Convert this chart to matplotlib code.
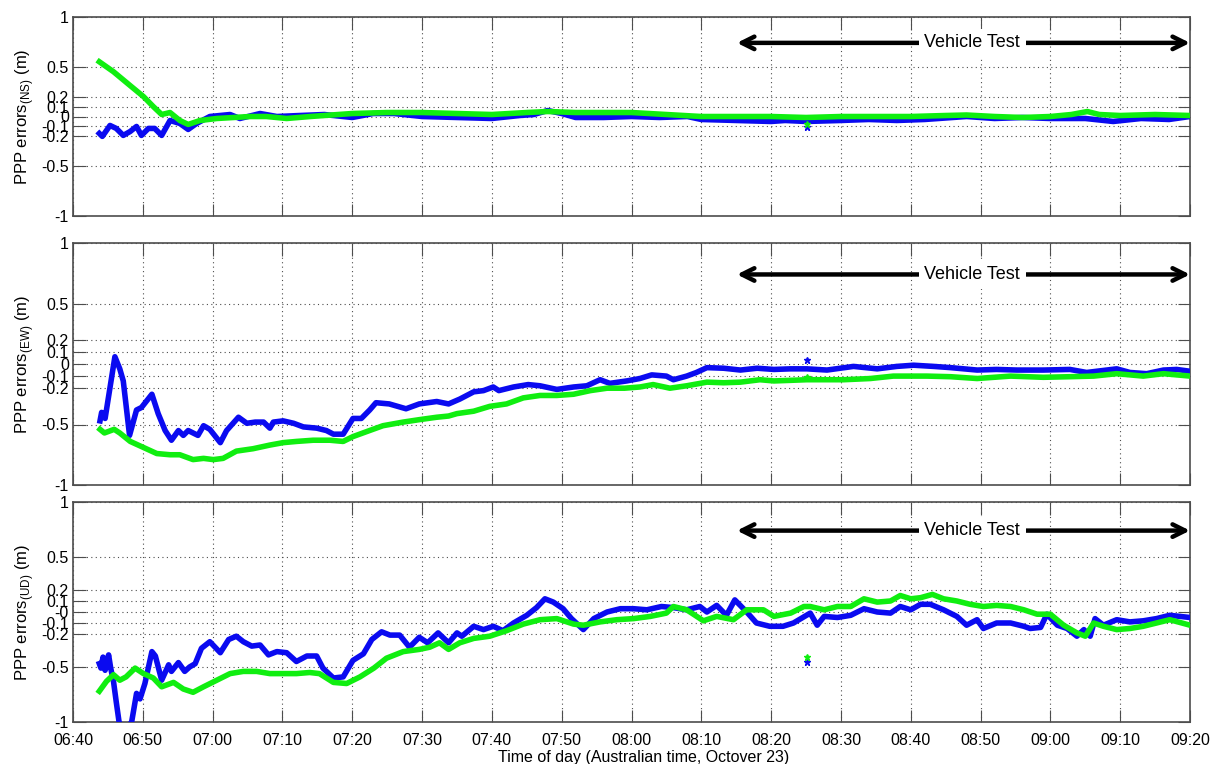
import matplotlib
matplotlib.use("Agg")
import matplotlib.pyplot as plt

plt.rcParams['font.family'] = ['Liberation Sans', 'DejaVu Sans']

# time in minutes after 06:40
tick_minutes = list(range(0, 161, 10))
tick_labels = ["06:40", "06:50", "07:00", "07:10", "07:20", "07:30", "07:40", "07:50", "08:00",
               "08:10", "08:20", "08:30", "08:40", "08:50", "09:00", "09:10", "09:20"]
y_ticks = [-1, -0.5, -0.2, -0.1, 0, 0.1, 0.2, 0.5, 1]

# NS errors
ns_blue_t = [3.77, 4.2, 5.3, 6.2, 7.2, 8.2, 9.1, 9.8, 10.8, 11.7, 12.7, 13.9, 15.3, 16.5, 17.7, 19.6,
             22.5, 23.9, 26.8, 29.2, 32.5, 36, 40, 43, 46, 50, 55, 60, 64, 66, 68, 70, 72, 76, 80,
             84, 88, 90, 95, 100, 102, 105, 110, 114, 118, 122, 128, 132, 136, 140, 145, 149, 153,
             157, 160]
ns_blue_v = [-0.17, -0.20, -0.09, -0.12, -0.19, -0.15, -0.10, -0.19, -0.12, -0.12, -0.19, -0.04,
             -0.07, -0.13, -0.07, 0.0, 0.02, -0.02, 0.03, 0.0, 0.01, 0.02, -0.01, 0.03, 0.03, 0.0,
             -0.01, -0.02, 0.01, 0.02, 0.06, 0.03, -0.01, -0.01, 0.0, -0.01, 0.0, -0.03, -0.04,
             -0.05, -0.04, -0.05, -0.04, -0.03, -0.04, -0.03, 0.0, -0.02, -0.01, -0.02, -0.02,
             -0.05, -0.02, -0.03, 0.0]
ns_green_t = [3.77, 5.8, 8.2, 10.1, 11.5, 12.7, 13.9, 15.3, 16.5, 18.2, 20.6, 23.0, 25.4, 27.7,
              30.6, 34, 40, 45, 50, 55, 60, 65, 68, 72, 76, 80, 85, 90, 95, 100, 105, 110, 115,
              120, 125, 128, 132, 136, 140, 143, 145.3, 147, 150, 155, 160]
ns_green_v = [0.55, 0.45, 0.31, 0.20, 0.10, 0.02, 0.04, -0.04, -0.08, -0.04, -0.02, -0.01, 0.0,
              0.0, -0.02, 0.0, 0.03, 0.04, 0.04, 0.03, 0.02, 0.04, 0.05, 0.04, 0.04, 0.04, 0.02,
              0.0, 0.0, 0.0, -0.01, 0.0, 0.0, 0.0, 0.01, 0.015, 0.0, -0.01, 0.0, 0.02, 0.05, 0.02,
              0.01, 0.02, 0.01]

# EW errors
ew_blue_t = [3.87, 4.1, 4.6, 6.0, 6.7, 7.2, 8.1, 9.1, 9.8, 11.3, 12.2, 13.2, 14.1, 15.1, 15.8,
             16.5, 17.9, 18.7, 19.6, 21.1, 22.0, 23.7, 24.9, 26.1, 27.3, 28.2, 28.7, 30.1, 31.6,
             33.0, 34.9, 36.3, 37.3, 38.7, 40.1, 41.3, 42.5, 43.4, 45.3, 47.7, 49.6, 52.1, 53.8,
             55.4, 57.4, 58.8, 60.2, 61.0, 63.1, 65.2, 66.9, 69.3, 71.7, 73.6, 75.5, 76.9, 79.3,
             81.2, 82.9, 85.0, 86.0, 87.9, 89.3, 90.8, 93.2, 95.6, 98.0, 100.4, 102.8, 105.1,
             108.0, 111.8, 115.2, 118.0, 120.4, 123.3, 125.7, 129.5, 132.3, 135.2, 139.0, 142.8,
             145.2, 149.5, 151.4, 153.8, 156.2, 158.1, 160]
ew_blue_v = [-0.47, -0.40, -0.45, 0.06, -0.04, -0.14, -0.59, -0.38, -0.36, -0.25, -0.41, -0.55,
             -0.63, -0.55, -0.59, -0.55, -0.59, -0.51, -0.54, -0.65, -0.55, -0.44, -0.49, -0.48,
             -0.48, -0.53, -0.48, -0.47, -0.49, -0.52, -0.53, -0.55, -0.58, -0.58, -0.45, -0.45,
             -0.38, -0.32, -0.33, -0.37, -0.33, -0.31, -0.33, -0.29, -0.23, -0.22, -0.19, -0.22,
             -0.19, -0.17, -0.18, -0.21, -0.19, -0.18, -0.13, -0.16, -0.14, -0.12, -0.09, -0.10,
             -0.13, -0.10, -0.07, -0.03, -0.035, -0.05, -0.035, -0.045, -0.04, -0.04, -0.05, -0.02,
             -0.04, -0.02, -0.01, -0.02, -0.03, -0.05, -0.045, -0.05, -0.05, -0.045, -0.07, -0.04,
             -0.07, -0.08, -0.05, -0.045, -0.06]
ew_green_t = [3.87, 4.5, 5.9, 6.7, 8.2, 10.1, 12.0, 13.9, 15.3, 17.2, 18.7, 20.1, 21.5, 23.4,
              25.8, 28.2, 30.1, 32.0, 34.4, 36.8, 38.7, 40.1, 42.0, 44.4, 47.3, 49.6, 52.1, 53.8,
              55.0, 57.4, 59.7, 62.1, 64.5, 66.9, 69.3, 71.7, 74.1, 76.5, 79.0, 81.2, 83.1, 85.5,
              87.9, 90.8, 93.2, 95.6, 98.4, 100.4, 102.8, 105.1, 110.4, 114.2, 117.5, 122.3, 125.7,
              129.5, 134.3, 139.0, 142.8, 146.2, 149.5, 153.3, 156.2, 160]
ew_green_v = [-0.54, -0.57, -0.54, -0.57, -0.64, -0.69, -0.74, -0.75, -0.75, -0.79, -0.78, -0.79,
              -0.78, -0.72, -0.70, -0.67, -0.65, -0.64, -0.63, -0.63, -0.64, -0.60, -0.56, -0.51,
              -0.48, -0.46, -0.44, -0.43, -0.41, -0.39, -0.35, -0.33, -0.28, -0.26, -0.26, -0.25,
              -0.22, -0.20, -0.20, -0.19, -0.17, -0.20, -0.18, -0.15, -0.155, -0.15, -0.13, -0.14,
              -0.135, -0.13, -0.13, -0.12, -0.10, -0.10, -0.105, -0.12, -0.10, -0.11, -0.105,
              -0.10, -0.08, -0.10, -0.08, -0.10]

# UD errors
ud_blue_t = [3.77, 4.0, 4.3, 4.6, 5.1, 5.4, 5.8, 6.2, 6.6, 7.3, 8.4, 9.1, 9.6, 10.3, 11.3, 11.8,
             12.7, 13.7, 14.1, 15.1, 16.0, 16.7, 17.5, 18.4, 19.6, 21.1, 22.3, 23.4, 24.4, 25.6,
             26.8, 28.0, 29.2, 30.6, 32.0, 33.5, 34.9, 35.8, 37.3, 38.7, 40.1, 41.6, 42.8, 44.2,
             45.4, 46.8, 48.2, 49.6, 50.8, 52.3, 53.8, 55.0, 55.7, 57.4, 58.8, 60.2, 61.6, 63.1,
             65.0, 66.4, 67.6, 68.8, 70.2, 71.4, 73.1, 74.6, 76.5, 78.4, 80.3, 82.2, 84.3, 86.0,
             87.9, 89.8, 90.8, 92.2, 93.6, 94.8, 96.5, 97.9, 99.8, 101.7, 103.2, 105.6, 106.6,
             107.6, 109.5, 111.4, 113.3, 115.2, 117.1, 118.5, 120.0, 121.4, 122.8, 124.7, 126.6,
             128.0, 129.5, 130.4, 132.3, 134.3, 136.2, 137.1, 138.6, 139.5, 141.0, 142.4, 143.8,
             144.8, 145.7, 146.4, 147.6, 149.5, 151.4, 153.3, 155.2, 157.1, 160]
ud_blue_v = [-0.47, -0.51, -0.41, -0.53, -0.39, -0.51, -0.63, -0.82, -1.0, -1.08, -1.0, -0.74,
             -0.79, -0.65, -0.36, -0.40, -0.62, -0.48, -0.54, -0.46, -0.54, -0.50, -0.47, -0.33,
             -0.27, -0.37, -0.25, -0.22, -0.27, -0.31, -0.30, -0.39, -0.36, -0.37, -0.45, -0.40,
             -0.40, -0.51, -0.60, -0.59, -0.44, -0.38, -0.25, -0.18, -0.21, -0.21, -0.32, -0.23,
             -0.28, -0.19, -0.28, -0.19, -0.22, -0.13, -0.16, -0.13, -0.17, -0.10, -0.03, 0.04,
             0.12, 0.09, 0.03, -0.06, -0.16, -0.06, 0.0, 0.03, 0.03, 0.02, 0.05, 0.04, 0.02, 0.05,
             0.0, 0.06, -0.03, 0.11, 0.0, -0.10, -0.13, -0.13, -0.10, -0.01, -0.12, -0.04, -0.05,
             -0.03, 0.03, 0.0, -0.01, 0.05, 0.02, 0.07, 0.07, 0.02, -0.04, -0.12, -0.07, -0.15,
             -0.10, -0.10, -0.13, -0.15, -0.14, -0.02, -0.12, -0.15, -0.22, -0.16, -0.22, -0.06,
             -0.12, -0.07, -0.09, -0.08, -0.06, -0.03, -0.05]
ud_green_t = [3.77, 4.8, 5.8, 6.7, 7.6, 8.9, 10.1, 11.5, 12.7, 14.4, 15.8, 17.2, 18.7, 20.6, 22.5,
              24.4, 26.3, 28.2, 30.1, 32.0, 33.9, 35.3, 37.3, 39.2, 41.1, 43.1, 44.9, 47.3, 49.6,
              51.1, 52.5, 53.8, 55.4, 57.4, 59.7, 62.1, 64.5, 66.9, 69.3, 71.7, 73.1, 75.5, 77.9,
              80.3, 82.7, 85.0, 86.0, 87.9, 90.3, 92.2, 94.6, 96.5, 98.9, 100.4, 102.8, 104.7,
              105.6, 107.6, 109.5, 111.4, 113.3, 115.2, 117.1, 118.5, 120.0, 121.4, 123.1, 124.7,
              126.6, 128.5, 130.4, 132.3, 134.3, 136.2, 138.1, 140.0, 141.9, 143.8, 145.0, 146.2,
              147.6, 149.5, 151.4, 153.3, 155.2, 157.1, 160]
ud_green_v = [-0.72, -0.63, -0.57, -0.62, -0.59, -0.51, -0.56, -0.60, -0.68, -0.64, -0.70, -0.73,
              -0.68, -0.62, -0.56, -0.54, -0.54, -0.56, -0.56, -0.56, -0.55, -0.56, -0.64, -0.65,
              -0.59, -0.51, -0.42, -0.36, -0.34, -0.32, -0.28, -0.34, -0.28, -0.24, -0.22, -0.17,
              -0.11, -0.07, -0.06, -0.11, -0.12, -0.09, -0.07, -0.06, -0.04, -0.01, 0.05, 0.02,
              -0.08, -0.04, -0.07, 0.02, 0.02, -0.04, -0.01, 0.05, 0.05, 0.02, 0.05, 0.05, 0.12,
              0.09, 0.10, 0.15, 0.12, 0.13, 0.16, 0.12, 0.10, 0.07, 0.05, 0.06, 0.05, 0.02, -0.02,
              -0.02, -0.12, -0.19, -0.22, -0.10, -0.13, -0.16, -0.15, -0.13, -0.10, -0.07, -0.12]

# isolated epoch near 08:25
spike_t = [105.1]
ns_spike_blue, ns_spike_green = [-0.11], [-0.08]
ew_spike_blue, ew_spike_green = [0.03], [-0.11]
ud_spike_blue, ud_spike_green = [-0.45], [-0.41]

panels = [
    ("NS", ns_blue_t, ns_blue_v, ns_green_t, ns_green_v, ns_spike_blue, ns_spike_green),
    ("EW", ew_blue_t, ew_blue_v, ew_green_t, ew_green_v, ew_spike_blue, ew_spike_green),
    ("UD", ud_blue_t, ud_blue_v, ud_green_t, ud_green_v, ud_spike_blue, ud_spike_green),
]

# axes boxes in figure pixels (top, bottom)
W, H = 1219, 764
boxes = [(17, 216), (243, 485), (502, 722)]
left_px, right_px = 73, 1190

fig = plt.figure(figsize=(W / 100, H / 100), dpi=100)
blue = '#0a0af0'
green = '#10ee10'

for i, (name, bt, bv, gt, gv, sb, sg) in enumerate(panels):
    top, bot = boxes[i]
    ax = fig.add_axes([left_px / W, 1 - bot / H, (right_px - left_px) / W, (bot - top) / H])
    ax.plot(bt, bv, color=blue, lw=4, solid_joinstyle='round', zorder=3)
    ax.plot(gt, gv, color=green, lw=4, solid_joinstyle='round', zorder=4)
    ax.plot(spike_t, sb, '*', color=blue, ms=5, zorder=3)
    ax.plot(spike_t, sg, '*', color=green, ms=5, zorder=4)

    ax.set_xlim(0, 160)
    ax.set_ylim(-1, 1)
    ax.set_xticks(tick_minutes)
    ax.set_yticks(y_ticks)
    ylabels = ['-1', '-0.5', '-0.2', '-0.1', '0', '0.1', '0.2', '0.5', '1']
    if name == "UD":
        ylabels[4] = '-0'
    ax.set_yticklabels(ylabels, fontsize=11.5)
    if i == 2:
        ax.set_xticklabels(tick_labels, fontsize=11.5)
        ax.set_xlabel("Time of day (Australian time, Octover 23)", fontsize=11.5)
        ax.xaxis.set_label_coords(0.511, -0.128)
    else:
        ax.set_xticklabels([])
    ax.set_ylabel("PPP errors$_{\\mathregular{(" + name + ")}}$ (m)", fontsize=12, labelpad=4)

    ax.grid(True, linestyle=(0, (1, 3)), color='0.3', lw=0.8)
    ax.tick_params(direction='in', length=9, width=0.8, top=True, right=True,
                   color='0.3')
    ax.tick_params(axis='x', pad=8)
    ax.tick_params(axis='y', pad=3)
    for s in ax.spines.values():
        s.set_color('0.3')
        s.set_linewidth(1.2)

    # vehicle test interval
    ax.annotate('', xy=(160, 0.74), xytext=(95.1, 0.74),
                arrowprops=dict(arrowstyle='<->,head_length=0.9,head_width=0.45', lw=3.2,
                                color='black', shrinkA=0, shrinkB=0), zorder=5,
                annotation_clip=False)
    ax.text(128.8, 0.74, "Vehicle Test", ha='center', va='center', fontsize=13,
            bbox=dict(facecolor='white', edgecolor='none', pad=4), zorder=6)

fig.savefig("out.png", dpi=100)
